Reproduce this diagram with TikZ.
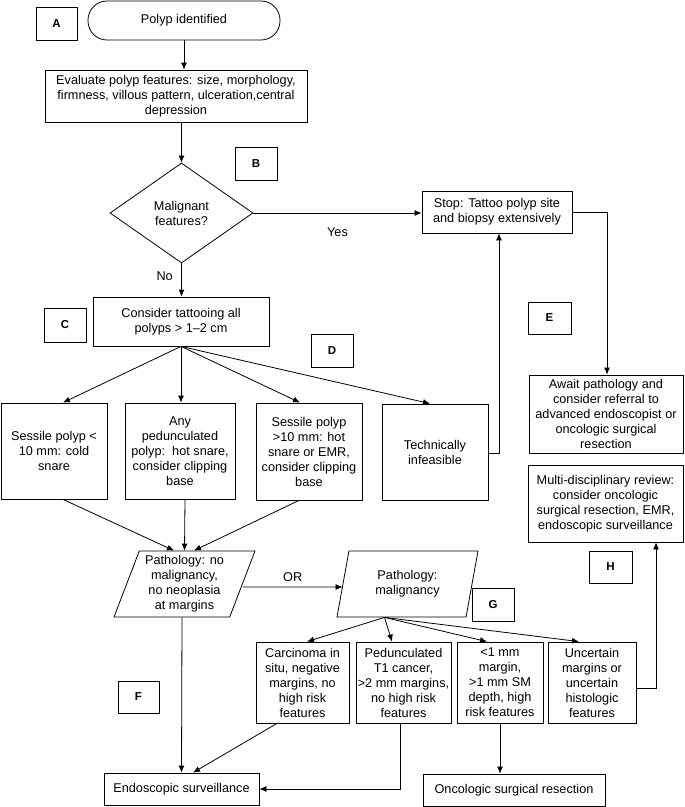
\documentclass[tikz,border=0pt]{standalone}
\usepackage{fontspec}
\setmainfont{Liberation Sans}
\usetikzlibrary{shapes.geometric,arrows.meta,calc}
\tikzset{
  txt/.style={font=\fontsize{12.7}{15}\selectfont},
  box/.style={txt, draw, line width=0.8pt, align=center, inner sep=1pt},
  lbl/.style={draw, line width=0.8pt, font=\fontsize{11.5}{14}\selectfont\bfseries, minimum width=42, minimum height=33, inner sep=0pt},
  para/.style={box, trapezium, trapezium left angle=66, trapezium right angle=114, trapezium stretches body=true, minimum width=141, minimum height=66, inner sep=0pt},
  arr/.style={-{Latex[length=7pt,width=6pt]}, line width=0.8pt},
}
\begin{document}
\begin{tikzpicture}[x=1pt,y=-1pt]
\fill[white] (0,0) rectangle (685,807);
\useasboundingbox (0,0) rectangle (685,807);
% labels
\node[lbl, minimum width=41] (A) at (56.5,23.5) {A};
\node[lbl] (B) at (256,163.5) {B};
\node[lbl, minimum height=34] (C) at (65,325) {C};
\node[lbl] (D) at (332,350.5) {D};
\node[lbl, minimum width=43, minimum height=32] (E) at (549.5,318) {E};
\node[lbl, minimum width=41, minimum height=32] (F) at (138.5,697) {F};
\node[lbl] (G) at (493,604.5) {G};
\node[lbl, minimum width=43, minimum height=32] (H) at (610.5,567) {H};
% main nodes
\node[box, rounded corners=19pt, minimum width=192, minimum height=39] (polyp) at (184,20.5) {Polyp identified};
\node[box, minimum width=262, minimum height=52] (eval) at (176,96) {Evaluate polyp features: size, morphology,\\firmness, villous pattern, ulceration,central\\depression};
\node[box, diamond, aspect=1.43, minimum width=143, minimum height=100, inner sep=0pt] (diam) at (181.5,213) {Malignant\\features?};
\node[box, minimum width=150, minimum height=42] (stop) at (497,212) {Stop: Tattoo polyp site\\and biopsy extensively};
\node[box, minimum width=176, minimum height=49] (cons) at (181,321.5) {Consider tattooing all\\polyps > 1–2 cm};
\node[box, minimum width=106, minimum height=96] (b1) at (54,451) {Sessile polyp <\\10 mm: cold\\snare};
\node[box, minimum width=110, minimum height=96] (b2) at (180,451) {Any\\pedunculated\\polyp:\ \ hot snare,\\consider clipping\\base};
\node[box, minimum width=106, minimum height=97] (b3) at (309,451.5) {Sessile polyp\\>10 mm: hot\\snare or EMR,\\consider clipping\\base};
\node[box, minimum width=106, minimum height=96] (b4) at (435,452) {Technically\\infeasible};
\node[box, minimum width=154, minimum height=78] (await) at (606,414) {Await pathology and\\consider referral to\\advanced endoscopist or\\oncologic surgical\\resection};
\node[box, minimum width=155, minimum height=77] (multi) at (605.5,503.5) {Multi-disciplinary review:\\consider oncologic\\surgical resection, EMR,\\endoscopic surveillance};
\node[para] (p1) at (184.5,584) {Pathology: no\\malignancy,\\no neoplasia\\at margins};
\node[para] (p2) at (407.5,584) {Pathology:\\malignancy};
\node[box, minimum width=93, minimum height=81] (g1) at (302.5,682.5) {Carcinoma in\\situ, negative\\margins, no\\high risk\\features};
\node[box, minimum width=95, minimum height=81] (g2) at (403.5,682.5) {Pedunculated\\T1 cancer,\\>2 mm margins,\\no high risk\\features};
\node[box, minimum width=86, minimum height=81] (g3) at (500,682.5) {<1 mm\\margin,\\>1 mm SM\\depth, high\\risk features};
\node[box, minimum width=88, minimum height=81] (g4) at (592,682.5) {Uncertain\\margins or\\uncertain\\histologic\\features};
\node[box, minimum width=155, minimum height=32] (es) at (181.5,789) {Endoscopic surveillance};
\node[box, minimum width=182, minimum height=32] (onc) at (514,790) {Oncologic surgical resection};
% connectors
\draw[arr] (polyp.south) -- (polyp.south |- eval.north);
\draw[arr] (diam.north |- eval.south) -- (diam.north);
\draw[arr] (diam.east) -- (diam.east -| stop.west) node[txt, midway, below=11pt] (yes) {Yes};
\draw[arr] (diam.south) -- (diam.south |- cons.north) node[txt, pos=0.4, left=5pt] (no) {No};
\draw[arr] (stop.east) -| ($(await.north)+(1,0)$);
\draw[arr] (cons.south) -- ($(b1.north)+(9,0)$);
\draw[arr] (cons.south) -- ($(b2.north)+(1,0)$);
\draw[arr] (cons.south) -- ($(b3.north)+(-9,0)$);
\draw[arr] (cons.south) -- ($(b4.north)+(-5,0)$);
\draw[arr] ($(b4.east)+(0,1)$) -| ($(stop.south)+(2,0)$);
\draw[arr] ($(b1.south)+(9,0)$) -- ($(p1.north)+(-10.5,0)$);
\draw[arr] ($(b2.south)+(5,0)$) -- (p1.north);
\draw[arr] ($(b3.south)+(-10,0)$) -- ($(p1.north)+(9.5,0)$);
\draw[arr] ($(p1.east)+(0,3)$) -- ($(p2.west)+(0,3)$) node[txt, midway, above=2pt] (or) {OR};
\draw[arr] ($(p1.south)+(-2.5,0)$) -- ($(es.north)+(0,0)$);
\draw[arr] ($(p2.south)+(-23,0)$) -- ($(g1.north)+(4.5,0)$);
\draw[arr] ($(p2.south)+(-23,0)$) -- ($(g2.north)+(-11.5,0)$);
\draw[arr] ($(p2.south)+(-23,0)$) -- ($(g3.north)+(-13,0)$);
\draw[arr] ($(p2.south)+(-23,0)$) -- ($(g4.north)+(-13,0)$);
\draw[arr] ($(g1.south)+(-25.5,0)$) -- ($(es.north)+(11.5,0)$);
\draw[arr] ($(g2.south)+(-3.5,0)$) |- (es.east);
\draw[arr] (g3.south) -- (g3.south |- onc.north);
\draw[arr] ($(g4.east)+(0,5.5)$) -| ($(multi.south)+(50.5,0)$);
\end{tikzpicture}
\end{document}
